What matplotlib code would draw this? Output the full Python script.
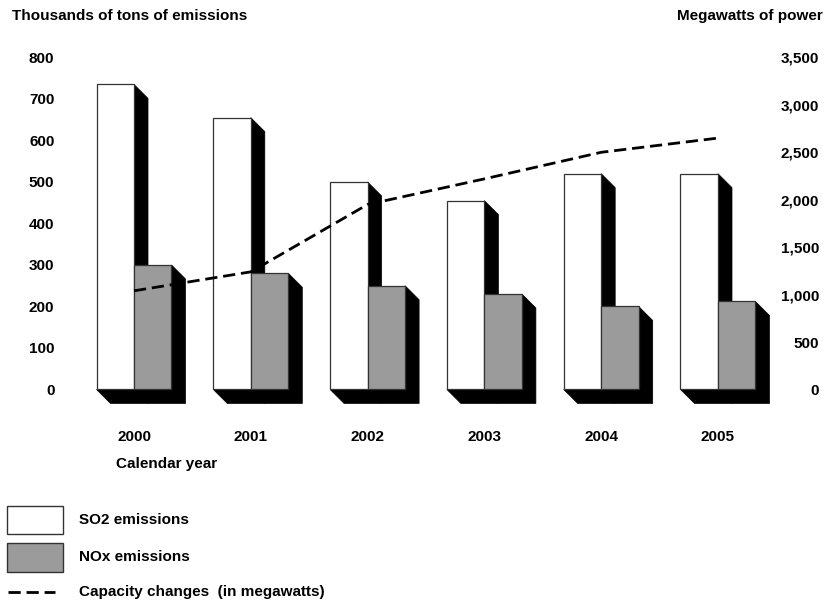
import matplotlib
matplotlib.use('Agg')
import matplotlib.pyplot as plt
from matplotlib.patches import Rectangle
from matplotlib.lines import Line2D
import numpy as np

# Data
years = ['2000', '2001', '2002', '2003', '2004', '2005']
so2 = [735, 655, 500, 455, 520, 520]          # thousands of tons
nox = [300, 280, 250, 230, 200, 212]          # thousands of tons
capacity = [1040, 1240, 1950, 2220, 2500, 2650]  # megawatts
left_ticks = [0, 100, 200, 300, 400, 500, 600, 700, 800]
right_ticks = [0, 500, 1000, 1500, 2000, 2500, 3000, 3500]

plt.rcParams['font.family'] = ['Liberation Sans', 'DejaVu Sans']
plt.rcParams['font.weight'] = 'bold'
FS = 11

W, H = 831, 603
fig = plt.figure(figsize=(W / 100, H / 100), dpi=100)


def fx(x):
    return x / W


def fy(y):
    return 1 - y / H


# axes placed in pixel terms
ax = fig.add_axes([fx(60), fy(420), fx(720), 380 / H])
ax.set_xlim(-0.6336, 5.531)
ax.set_ylim(-73.5, 842)
ax2 = ax.twinx()
ax2.set_ylim(-73.5 * 4.375, 842 * 4.375)

w = 0.321      # bar width
dx = 0.12      # depth offset in x
dy = 33.7      # depth offset in y (data units, downward)
DASH = [4.4, 2.1]

x = np.arange(len(years))


def bar3d(x0, h, color):
    x1 = x0 + w
    ax.fill([x0, x0 + dx, x1 + dx, x1 + dx, x1, x1],
            [0, -dy, -dy, h - dy, h, 0],
            facecolor='black', edgecolor='black', linewidth=0.5, zorder=2)
    ax.bar(x0, h, width=w, align='edge', color=color,
           edgecolor='#333333', linewidth=0.9, zorder=3)


for i in range(len(years)):
    bar3d(x[i] - w, so2[i], 'white')
    bar3d(x[i], nox[i], '#9b9b9b')

line, = ax2.plot(x, capacity, color='black', linewidth=2.0, zorder=5)
line.set_dashes(DASH)
ax2.set_zorder(ax.get_zorder() + 1)
ax2.patch.set_visible(False)

for a in (ax, ax2):
    for s in a.spines.values():
        s.set_visible(False)

ax.set_yticks(left_ticks)
ax.set_yticklabels([str(t) for t in left_ticks], fontsize=FS, fontweight='bold')
ax.tick_params(axis='y', length=0, pad=4)
ax.set_xticks(x)
ax.set_xticklabels(years, fontsize=FS, fontweight='bold')
ax.tick_params(axis='x', length=0, pad=7)

ax2.set_yticks(right_ticks)
ax2.set_yticklabels([f'{t:,}' for t in right_ticks], fontsize=FS, fontweight='bold', ha='right')
ax2.tick_params(axis='y', length=0, pad=28)

fig.text(fx(12), fy(16), 'Thousands of tons of emissions', fontsize=FS,
         fontweight='bold', ha='left', va='center')
fig.text(fx(823), fy(16), 'Megawatts of power', fontsize=FS,
         fontweight='bold', ha='right', va='center')
fig.text(fx(116), fy(464), 'Calendar year', fontsize=FS,
         fontweight='bold', ha='left', va='center')

# legend drawn by hand
fig.add_artist(Rectangle((fx(7), fy(534)), fx(56), 28 / H, facecolor='white',
                         edgecolor='#333333', linewidth=1.0, transform=fig.transFigure))
fig.add_artist(Rectangle((fx(7), fy(572)), fx(56), 29 / H, facecolor='#9b9b9b',
                         edgecolor='#333333', linewidth=1.0, transform=fig.transFigure))
leg_line = Line2D([fx(8), fx(55)], [fy(592), fy(592)], color='black',
                  linewidth=2.0, transform=fig.transFigure)
leg_line.set_dashes(DASH)
fig.add_artist(leg_line)
fig.text(fx(79), fy(520), 'SO2 emissions', fontsize=FS, fontweight='bold', va='center')
fig.text(fx(79), fy(557), 'NOx emissions', fontsize=FS, fontweight='bold', va='center')
fig.text(fx(79), fy(592), 'Capacity changes  (in megawatts)', fontsize=FS,
         fontweight='bold', va='center')

fig.savefig('out.png', dpi=100)
